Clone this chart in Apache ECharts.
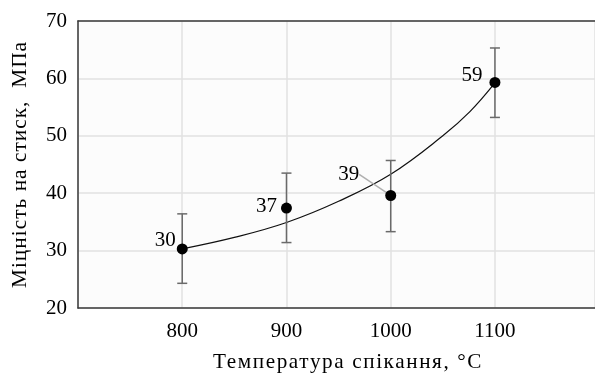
<!DOCTYPE html>
<html><head><meta charset="utf-8">
<script src="https://cdn.jsdelivr.net/npm/echarts@6/dist/echarts.min.js"></script>
<style>html,body{margin:0;padding:0;background:#fff}#c{width:595px;height:374px}</style>
</head><body><div id="c"></div>
<script>
var temps = [800, 900, 1000, 1100];
var strength = [30.3, 37.4, 39.6, 59.3];
var errLow = [24.3, 31.4, 33.3, 53.2];
var errHigh = [36.4, 43.5, 45.7, 65.3];
var labels = ['30', '37', '39', '59'];
var trendX = [800, 850, 900, 950, 1000, 1050, 1076, 1100];
var trendY = [30.3, 32.3, 34.9, 38.6, 43.3, 50.0, 54.2, 59.2];
var xTicks = [800, 900, 1000, 1100];
var yTicks = [20, 30, 40, 50, 60, 70];

var FONT = '"Liberation Serif", "Times New Roman", serif';
var X_TITLE_SIZE = 21.2;
var Y_TITLE_SIZE = 21.4;
var labelShift = [[3, -8], [0, -2], [-22, -21], [-3, -7]];

// letter-spaced axis titles, as in the reference
(function () {
  var proto = CanvasRenderingContext2D.prototype;
  var desc = Object.getOwnPropertyDescriptor(proto, 'font');
  if (!desc || !('letterSpacing' in proto)) return;
  var spacing = {};
  spacing[X_TITLE_SIZE + 'px'] = '1.6px';
  spacing[Y_TITLE_SIZE + 'px'] = '1px';
  Object.defineProperty(proto, 'font', {
    configurable: true,
    get: function () { return desc.get.call(this); },
    set: function (v) {
      desc.set.call(this, v);
      var s = String(v), ls = '0px';
      for (var k in spacing) { if (s.indexOf(' ' + k) >= 0 || s.indexOf(k) === 0) ls = spacing[k]; }
      this.letterSpacing = ls;
    }
  });
})();

var chart = echarts.init(document.getElementById('c'), null, {renderer: 'canvas'});
chart.setOption({
  animation: false,
  backgroundColor: '#ffffff',
  grid: {left: 78, right: 0, top: 21, bottom: 66, show: true, backgroundColor: '#fcfcfc', borderWidth: 0, borderColor: 'transparent',
    containLabel: false, outerBoundsMode: 'none'},
  xAxis: [{
    type: 'value', min: 700, max: 1196, interval: 100,
    name: 'Температура спікання, °C', nameLocation: 'middle', nameGap: 43,
    nameTextStyle: {fontFamily: FONT, fontSize: X_TITLE_SIZE, color: '#000', padding: [0, 0, 0, 23]},
    axisLine: {show: true, onZero: false, lineStyle: {color: '#3a3a3a', width: 1.5}},
    axisTick: {show: false},
    axisLabel: {fontFamily: FONT, fontSize: 21, color: '#000', margin: 13,
      formatter: function (v) { return xTicks.indexOf(v) >= 0 ? String(v) : ''; }},
    splitLine: {show: true, lineStyle: {color: '#e2e2e2', width: 1.5}}
  }, {
    type: 'value', position: 'top', min: 700, max: 1196, interval: 100,
    axisLine: {show: true, onZero: false, lineStyle: {color: '#3a3a3a', width: 1.5}},
    axisTick: {show: false}, axisLabel: {show: false}, splitLine: {show: false}
  }],
  yAxis: {
    type: 'value', min: 20, max: 70, interval: 10,
    name: 'Міцність на стиск,  МПа', nameLocation: 'middle', nameGap: 47,
    nameTextStyle: {fontFamily: FONT, fontSize: Y_TITLE_SIZE, color: '#000'},
    axisLine: {show: true, onZero: false, lineStyle: {color: '#3a3a3a', width: 1.5}},
    axisTick: {show: false},
    axisLabel: {fontFamily: FONT, fontSize: 21, color: '#000', margin: 11,
      formatter: function (v) { return yTicks.indexOf(v) >= 0 ? String(v) : ''; }},
    splitLine: {show: true, lineStyle: {color: '#e2e2e2', width: 1.5}}
  },
  series: [
    {
      type: 'line', data: trendX.map(function (x, i) { return [x, trendY[i]]; }),
      smooth: 0.4, showSymbol: false, symbol: 'none',
      lineStyle: {color: '#111', width: 1.2}, z: 2
    },
    {
      type: 'custom', z: 3,
      data: temps.map(function (t, i) { return [t, errLow[i], errHigh[i]]; }),
      renderItem: function (params, api) {
        var lo = api.coord([api.value(0), api.value(1)]);
        var hi = api.coord([api.value(0), api.value(2)]);
        var w = 5;
        var st = {stroke: '#6a6a6a', lineWidth: 1.5};
        return {type: 'group', children: [
          {type: 'line', shape: {x1: lo[0], y1: lo[1], x2: hi[0], y2: hi[1]}, style: st},
          {type: 'line', shape: {x1: lo[0] - w, y1: lo[1], x2: lo[0] + w, y2: lo[1]}, style: st},
          {type: 'line', shape: {x1: hi[0] - w, y1: hi[1], x2: hi[0] + w, y2: hi[1]}, style: st}
        ]};
      }
    },
    {
      type: 'scatter', z: 4, symbol: 'circle', symbolSize: 11,
      itemStyle: {color: '#000', opacity: 1},
      data: temps.map(function (t, i) {
        var d = {value: [t, strength[i]], name: labels[i]};
        if (i === 2) d.labelLine = {show: true, lineStyle: {color: '#b0b0b0', width: 1.5}};
        return d;
      }),
      label: {show: true, position: 'left', distance: 4, fontFamily: FONT, fontSize: 21, color: '#000', opacity: 1,
        formatter: function (p) { return labels[p.dataIndex]; }},
      labelLayout: function (p) {
        var s = labelShift[p.dataIndex];
        return {dx: s[0], dy: s[1]};
      }
    }
  ]
});
</script></body></html>
